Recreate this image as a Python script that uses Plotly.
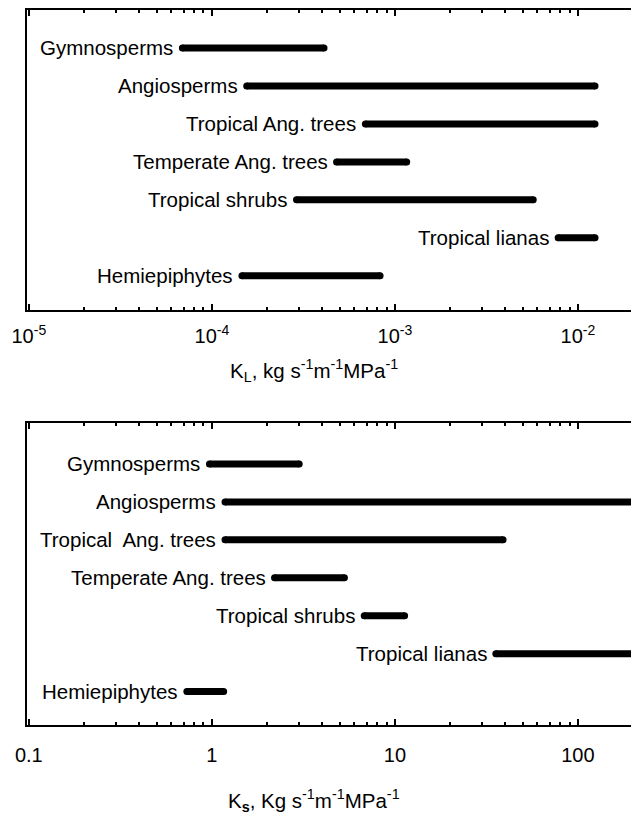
import numpy as np
import plotly.graph_objects as go

groups = ["Gymnosperms", "Angiosperms", "Tropical Ang. trees", "Temperate Ang. trees",
          "Tropical shrubs", "Tropical lianas", "Hemiepiphytes"]
groups_ks = ["Gymnosperms", "Angiosperms", "Tropical  Ang. trees", "Temperate Ang. trees",
             "Tropical shrubs", "Tropical lianas", "Hemiepiphytes"]

# Leaf-specific conductivity K_L (kg s-1 m-1 MPa-1): ranges
kl_min = [6.9e-5, 1.55e-4, 6.9e-4, 4.8e-4, 2.9e-4, 7.8e-3, 1.46e-4]
kl_max = [4.1e-4, 1.24e-2, 1.24e-2, 1.16e-3, 5.7e-3, 1.24e-2, 8.3e-4]

# Stem-specific conductivity K_s (kg s-1 m-1 MPa-1): ranges
ks_min = [0.97, 1.18, 1.18, 2.2, 6.8, 35.6, 0.73]
ks_max = [3.0, 300.0, 39.0, 5.3, 11.3, 300.0, 1.16]

kl_tickvals = [1e-5, 1e-4, 1e-3, 1e-2]
kl_ticktext = ["10<sup>-5</sup>", "10<sup>-4</sup>", "10<sup>-3</sup>", "10<sup>-2</sup>"]
ks_tickvals = [0.1, 1, 10, 100]
ks_ticktext = ["0.1", "1", "10", "100"]

FONT = "Arial, Liberation Sans, sans-serif"
W, H = 631, 821

fig = go.Figure()

def add_panel(xa, ya, names, lo, hi):
    for i, (n, a, b) in enumerate(zip(names, lo, hi)):
        fig.add_trace(go.Scatter(
            x=[a, b], y=[i, i], mode="lines+markers",
            line=dict(color="black", width=7),
            marker=dict(color="black", size=7),
            xaxis=xa, yaxis=ya, showlegend=False, hoverinfo="skip"))
        fig.add_annotation(x=np.log10(a), y=i, xref=xa, yref=ya, text=n,
                           showarrow=False, xanchor="right", yanchor="middle",
                           xshift=-7, font=dict(family=FONT, size=20.5, color="black"))

add_panel("x", "y", groups, kl_min, kl_max)
add_panel("x2", "y2", groups_ks, ks_min, ks_max)

def minor_vals(lo, hi):
    return [m * 10.0 ** k for k in range(lo, hi) for m in range(2, 10)]

axis_common = dict(type="log", showline=True, linecolor="black", linewidth=2,
                   mirror="ticks", ticks="inside", ticklen=6, tickwidth=1.5, tickcolor="black",
                   showgrid=False, zeroline=False, automargin=False,
                   tickfont=dict(family=FONT, size=20, color="black"))

y_top = (1 - 310 / H, 1 - 10 / H)
y_bot = (1 - 725 / H, 1 - 423 / H)

fig.update_layout(
    width=W, height=H, margin=dict(l=27, r=0, t=0, b=0, autoexpand=False),
    paper_bgcolor="white", plot_bgcolor="white",
    xaxis=dict(**axis_common, domain=[0, 1], anchor="y", range=[-5.01, -1.71],
               ticklabelstandoff=7,
               tickmode="array", tickvals=kl_tickvals, ticktext=kl_ticktext,
               minor=dict(ticks="inside", ticklen=3, tickcolor="black",
                          tickmode="array", tickvals=minor_vals(-5, -1), showgrid=False)),
    yaxis=dict(domain=list(y_top), anchor="x", range=[6.9, -1.0], showline=True,
               linecolor="black", linewidth=2, showticklabels=False, ticks="",
               showgrid=False, zeroline=False, automargin=False),
    xaxis2=dict(**axis_common, domain=[0, 1], anchor="y2", range=[-1.01, 2.29],
                ticklabelstandoff=11,
                tickmode="array", tickvals=ks_tickvals, ticktext=ks_ticktext,
                minor=dict(ticks="inside", ticklen=3, tickcolor="black",
                           tickmode="array", tickvals=minor_vals(-1, 3), showgrid=False)),
    yaxis2=dict(domain=list(y_bot), anchor="x2", range=[6.88, -1.08], showline=True,
                linecolor="black", linewidth=2, showticklabels=False, ticks="",
                showgrid=False, zeroline=False, automargin=False),
)

fig.add_annotation(xref="paper", yref="paper", x=(314 - 27) / (W - 27), y=1 - 370 / H,
                   text="K<sub>L</sub>, kg s<sup>-1</sup>m<sup>-1</sup>MPa<sup>-1</sup>",
                   showarrow=False, xanchor="center", yanchor="middle",
                   font=dict(family=FONT, size=20.5, color="black"))
fig.add_annotation(xref="paper", yref="paper", x=(314 - 27) / (W - 27), y=1 - 800 / H,
                   text="K<sub><b>s</b></sub>, Kg s<sup>-1</sup>m<sup>-1</sup>MPa<sup>-1</sup>",
                   showarrow=False, xanchor="center", yanchor="middle",
                   font=dict(family=FONT, size=20.5, color="black"))

fig.write_html("out.html", config={"displayModeBar": False},
               post_script="document.body.style.margin='0';document.body.style.overflow='hidden';")
